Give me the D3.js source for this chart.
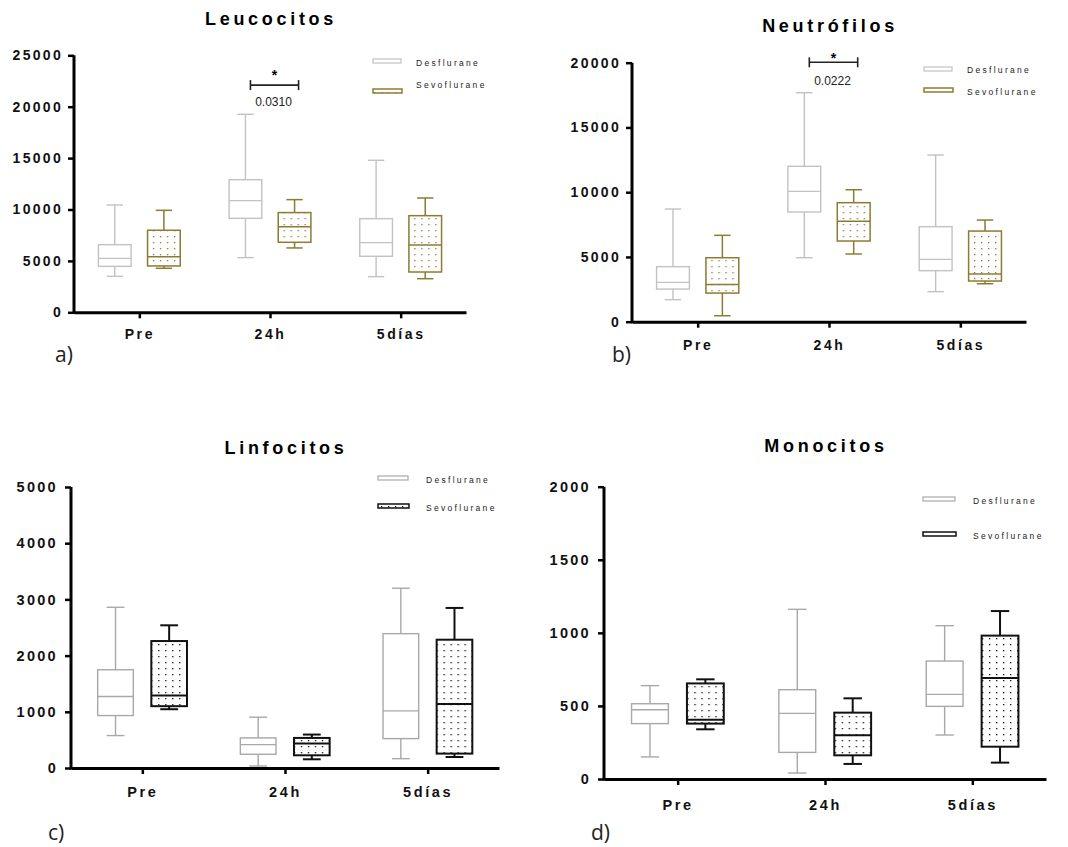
<!DOCTYPE html>
<html>
<head>
<meta charset="utf-8">
<script src="https://cdn.jsdelivr.net/npm/d3@7"></script>
<style>
  body { margin: 0; background: #fff; }
  text { font-family: "Liberation Sans", Arial, sans-serif; }
</style>
</head>
<body>
<svg id="chart" width="1068" height="847"></svg>
<script>
// groups / series
const groups = ["Pre", "24h", "5días"];
const seriesNames = ["Desflurane", "Sevoflurane"];

// each row: [min, q1, median, q3, max]
const leucocitosDes  = [[3500, 4470, 5250, 6580, 10440], [5320, 9140, 10860, 12900, 19260], [3470, 5450, 6780, 9110, 14790]];
const leucocitosSevo = [[4280, 4510, 5410, 7980, 9920],  [6260, 6810, 8330, 9700, 10960],   [3270, 3920, 6550, 9400, 11120]];
const neutrofilosDes  = [[1700, 2520, 3040, 4250, 8700], [4940, 8470, 10060, 12000, 17680], [2320, 3940, 4810, 7340, 12870]];
const neutrofilosSevo = [[460, 2210, 2880, 4940, 6670],  [5230, 6230, 7750, 9190, 10190],   [2930, 3140, 3680, 7000, 7850]];
const linfocitosDes  = [[577, 933, 1272, 1748, 2860],  [36, 244, 416, 535, 904],  [166, 523, 1017, 2390, 3199]];
const linfocitosSevo = [[1046, 1100, 1290, 2259, 2539], [155, 226, 434, 535, 595], [196, 256, 1141, 2283, 2848]];
const monocitosDes  = [[151, 379, 474, 515, 639], [41, 182, 449, 611, 1161], [301, 497, 579, 807, 1049]];
const monocitosSevo = [[340, 379, 406, 654, 682], [103, 162, 299, 454, 552], [112, 221, 691, 981, 1149]];

// y ticks
const leucocitosTicks  = [0, 5000, 10000, 15000, 20000, 25000];
const neutrofilosTicks = [0, 5000, 10000, 15000, 20000];
const linfocitosTicks  = [0, 1000, 2000, 3000, 4000, 5000];
const monocitosTicks   = [0, 500, 1000, 1500, 2000];

// significance brackets: [group, y value, p]
const leucocitosSig  = ["24h", 22100, "0.0310"];
const neutrofilosSig = ["24h", 20030, "0.0222"];

const svg = d3.select("#chart");
const defs = svg.append("defs");

function dotPattern(id, color) {
  const p = defs.append("pattern")
    .attr("id", id)
    .attr("patternUnits", "userSpaceOnUse")
    .attr("width", 7).attr("height", 6);
  p.append("rect").attr("width", 7).attr("height", 6).attr("fill", "#fff");
  p.append("rect").attr("x", 3).attr("y", 2).attr("width", 1.3).attr("height", 1.3).attr("fill", color);
}
dotPattern("dotsOlive", "#8c7b32");
dotPattern("dotsBlack", "#111");

const panels = [
  { title: "Leucocitos", tag: "a)", des: leucocitosDes, sevo: leucocitosSevo, ticks: leucocitosTicks,
    xr: [74, 466], yr: [312.3, 55.3], titleY: 25, labelDy: 27, tagXY: [55, 362], fs: 14, lx: -11,
    desColor: "#c2c2c2", sevoColor: "#8c7b32", pat: "dotsOlive", sw: 1.5,
    leg: { x: 373, w: 28, tx: 416, y1: 59, y2: 89, t1: 66, t2: 88 }, sig: leucocitosSig, sigTextDy: 21, starDy: -13 },
  { title: "Neutrófilos", tag: "b)", des: neutrofilosDes, sevo: neutrofilosSevo, ticks: neutrofilosTicks,
    xr: [632, 1026], yr: [321.7, 62.7], titleY: 32, labelDy: 28, tagXY: [612, 362], fs: 14, lx: -11,
    desColor: "#c2c2c2", sevoColor: "#8c7b32", pat: "dotsOlive", sw: 1.5,
    leg: { x: 924, w: 28, tx: 967, y1: 67, y2: 88, t1: 73, t2: 95 }, sig: neutrofilosSig, sigTextDy: 23, starDy: -7 },
  { title: "Linfocitos", tag: "c)", des: linfocitosDes, sevo: linfocitosSevo, ticks: linfocitosTicks,
    xr: [71, 499], yr: [768, 487], titleY: 454, labelDy: 29, tagXY: [48, 840], fs: 14.5, lx: -13,
    desColor: "#a8a8a8", sevoColor: "#111", pat: "dotsBlack", sw: 2,
    leg: { x: 378, w: 30, tx: 426, y1: 476, y2: 504, t1: 483, t2: 511 } },
  { title: "Monocitos", tag: "d)", des: monocitosDes, sevo: monocitosSevo, ticks: monocitosTicks,
    xr: [604, 1046], yr: [779, 486.7], titleY: 452, labelDy: 31, tagXY: [591, 840], fs: 14.5, lx: -13,
    desColor: "#a8a8a8", sevoColor: "#111", pat: "dotsBlack", sw: 2,
    leg: { x: 923, w: 32, tx: 973, y1: 497, y2: 532, t1: 504, t2: 539 } }
];

panels.forEach(drawPanel);

function drawPanel(p) {
  const g = svg.append("g");
  const x = d3.scalePoint().domain(groups).range(p.xr).padding(0.5);
  const y = d3.scaleLinear().domain([0, d3.max(p.ticks)]).range(p.yr);
  const step = x.step();
  const off = step * 0.188, bw = step * 0.25;

  // title
  g.append("text")
    .attr("x", (p.xr[0] + p.xr[1]) / 2 + 1).attr("y", p.titleY)
    .attr("text-anchor", "middle")
    .style("font-size", "18px").style("font-weight", "bold").style("letter-spacing", "3.7px")
    .text(p.title);

  // boxes
  const sets = [
    { data: p.des, dx: -off, color: p.desColor, fill: "#fff", sw: 1.4 },
    { data: p.sevo, dx: off, color: p.sevoColor, fill: "url(#" + p.pat + ")", sw: p.sw }
  ];
  sets.forEach(s => {
    const bx = g.selectAll(null).data(s.data).enter().append("g")
      .attr("transform", (d, i) => "translate(" + (x(groups[i]) + s.dx) + ",0)");
    bx.append("line").attr("x1", 0).attr("x2", 0)
      .attr("y1", d => y(d[0])).attr("y2", d => y(d[4]))
      .attr("stroke", s.color).attr("stroke-width", s.sw);
    bx.selectAll(".cap").data(d => [d[0], d[4]]).enter().append("line")
      .attr("x1", -bw / 4).attr("x2", bw / 4)
      .attr("y1", v => y(v)).attr("y2", v => y(v))
      .attr("stroke", s.color).attr("stroke-width", s.sw);
    bx.append("rect")
      .attr("x", -bw / 2).attr("width", bw)
      .attr("y", d => y(d[3])).attr("height", d => y(d[1]) - y(d[3]))
      .attr("fill", s.fill).attr("stroke", s.color).attr("stroke-width", s.sw);
    bx.append("line").attr("x1", -bw / 2).attr("x2", bw / 2)
      .attr("y1", d => y(d[2])).attr("y2", d => y(d[2]))
      .attr("stroke", s.color).attr("stroke-width", s.sw);
  });

  // axes
  const ya = g.append("g").attr("transform", "translate(" + p.xr[0] + ",0)")
    .call(d3.axisLeft(y).tickValues(p.ticks).tickSize(6).tickSizeOuter(0).tickPadding(5).tickFormat(d3.format("d")));
  const xa = g.append("g").attr("transform", "translate(0," + p.yr[0] + ")")
    .call(d3.axisBottom(x).tickSize(6).tickSizeOuter(0));
  [ya, xa].forEach(a => {
    a.select(".domain").attr("stroke", "#000").attr("stroke-width", 3);
    a.selectAll(".tick line").attr("stroke", "#000").attr("stroke-width", 2.5);
    a.selectAll("text").attr("fill", "#111")
      .style("font-size", p.fs + "px").style("font-weight", "bold").style("font-family", "Liberation Sans, Arial, sans-serif");
  });
  ya.select(".domain").attr("d", "M0," + (p.yr[0] + 1.5) + "V" + p.yr[1]);
  ya.selectAll("text").style("letter-spacing", "2.3px").attr("x", p.lx);
  xa.selectAll("text").style("letter-spacing", "2.6px").attr("y", p.labelDy).attr("dy", 0);

  // legend
  const L = p.leg;
  g.append("rect").attr("x", L.x).attr("y", L.y1).attr("width", L.w).attr("height", 4)
    .attr("fill", "#fff").attr("stroke", p.desColor).attr("stroke-width", 1.2);
  g.append("rect").attr("x", L.x).attr("y", L.y2).attr("width", L.w + 1).attr("height", 4)
    .attr("fill", "url(#" + p.pat + ")").attr("stroke", p.sevoColor).attr("stroke-width", 1.5);
  g.append("text").attr("x", L.tx).attr("y", L.t1).text(seriesNames[0])
    .style("font-size", "8.5px").style("letter-spacing", "2.3px").attr("fill", "#222");
  g.append("text").attr("x", L.tx).attr("y", L.t2).text(seriesNames[1])
    .style("font-size", "8.5px").style("letter-spacing", "2.3px").attr("fill", "#222");

  // significance
  if (p.sig) {
    const cx = x(p.sig[0]);
    const x1 = cx - off + 5, x2 = cx + off + 4, yy = y(p.sig[1]);
    const sg = g.append("g").attr("stroke", "#222").attr("stroke-width", 1.6);
    sg.append("line").attr("x1", x1).attr("x2", x2).attr("y1", yy).attr("y2", yy);
    sg.append("line").attr("x1", x1).attr("x2", x1).attr("y1", yy - 5).attr("y2", yy + 5);
    sg.append("line").attr("x1", x2).attr("x2", x2).attr("y1", yy - 5).attr("y2", yy + 5);
    const mid = (x1 + x2) / 2;
    g.append("text").attr("x", mid).attr("y", yy + p.starDy + 8).attr("text-anchor", "middle")
      .style("font-size", "14px").style("font-weight", "bold").text("*");
    g.append("text").attr("x", mid - 1).attr("y", yy + p.sigTextDy).attr("text-anchor", "middle")
      .style("font-size", "12px").attr("fill", "#222").text(p.sig[2]);
  }

  // panel tag
  g.append("text").attr("x", p.tagXY[0]).attr("y", p.tagXY[1])
    .style("font-size", "21px").style("font-family", "Open Sans, Liberation Sans, sans-serif")
    .attr("fill", "#222").text(p.tag);
}
</script>
</body>
</html>
